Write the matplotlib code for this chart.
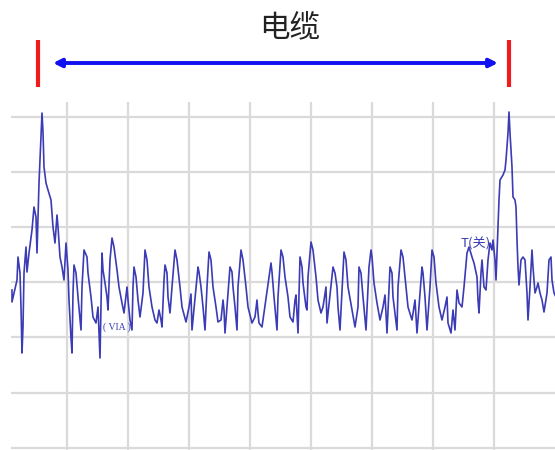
import matplotlib
matplotlib.use("Agg")
import matplotlib.pyplot as plt

plt.rcParams['font.family'] = ['Noto Sans CJK SC', 'DejaVu Sans']

# waveform vertices: sample index, amplitude
t = [12, 12, 17, 18, 20, 21, 22, 23, 24, 26, 27, 29, 32, 34, 36, 37, 39, 42, 43, 44,
     46, 48, 51, 53, 55, 57, 58, 60, 62, 64, 66, 68, 69, 71, 72, 73, 74, 76, 78, 81,
     82, 84, 87, 88, 91, 93, 96, 98, 100, 102, 103, 105, 107, 108, 110, 112, 114, 117, 119, 122,
     124, 127, 128, 130, 132, 133, 134, 136, 138, 140, 143, 145, 147, 149, 152, 155, 157, 159, 161, 162,
     164, 165, 167, 168, 170, 172, 175, 177, 180, 182, 186, 189, 191, 192, 198, 199, 201, 203, 205, 207,
     209, 211, 213, 216, 218, 221, 223, 224, 225, 230, 232, 233, 235, 237, 238, 241, 243, 246, 248, 252,
     255, 257, 258, 259, 262, 271, 272, 274, 277, 278, 281, 283, 285, 288, 290, 293, 295, 296, 298, 300,
     302, 303, 306, 307, 308, 311, 313, 316, 318, 321, 323, 326, 327, 333, 335, 337, 338, 340, 342, 344,
     346, 348, 352, 355, 358, 359, 361, 363, 366, 369, 371, 372, 374, 377, 380, 383, 385, 387, 390, 392,
     393, 397, 398, 401, 403, 406, 408, 412, 415, 417, 422, 423, 425, 427, 430, 432, 434, 436, 439, 442,
     445, 447, 448, 451, 453, 455, 457, 459, 462, 464, 467, 469, 472, 474, 477, 478, 479, 481, 482, 484,
     486, 488, 490, 492, 493, 495, 496, 498, 499, 500, 503, 505, 506, 508, 509, 510, 512, 513, 515, 516,
     517, 518, 519, 521, 523, 525, 527, 528, 530, 532, 533, 535, 537, 538, 540, 542, 544, 547, 549, 551,
     552, 554, 556]
amp = [-8, -20, 2, 25, 9, -25, -71, -45, 9, 35, 10, 29, 52, 75, 65, 29, 99, 169, 150, 115,
       99, 92, 82, 55, 39, 67, 55, 25, 15, 2, 39, 12, -18, -56, -71, -11, 17, 9, -15, -48,
       -5, 32, 25, 9, -15, -35, -41, -25, -76, 29, 12, -1, -15, -28, 22, 44, 35, 12, -5, -21,
       -31, -5, -18, -38, -48, -5, 15, 5, -18, -35, -11, 32, 22, -5, -25, -38, -41, -28, -38, -45,
       2, 17, 9, -15, -31, -5, 32, 22, -5, -25, -40, -25, -12, -48, 15, 10, -5, -25, -48, -5,
       30, 22, -5, -25, -40, -38, -18, -28, -51, 15, 10, -5, -25, -48, -5, 32, 22, -5, -25, -41,
       -35, -18, -31, -41, -45, 19, 10, -15, -48, -15, 32, 25, 5, -15, -35, -40, -18, -13, -51, 25,
       15, -1, -25, -28, 5, 40, 32, 5, -18, -31, -25, -5, -41, 15, 9, -5, -25, -48, -8, 30,
       22, -5, -28, -45, -25, 15, 9, -15, -48, 15, 32, 25, -1, -21, -38, -25, -13, -51, 15, 9,
       -15, -48, -5, 32, 25, -5, -25, -38, -18, -51, 15, 9, -15, -48, -5, 32, 25, -1, -25, -38,
       -25, -15, -41, -51, -28, -48, -8, -21, -25, -5, 29, 35, 25, 19, 5, -18, -31, 9, 22, -5,
       -8, 22, 39, 32, 42, 22, 2, 55, 82, 102, 107, 112, 122, 149, 170, 149, 115, 85, 82, 75,
       42, 15, -3, 22, 25, 22, -11, -38, -5, 32, 15, -11, -5, -1, -11, -18, -30, -11, 22, 25,
       2, -11, -15]

grid_t = [67, 128, 189, 250, 311, 372, 433, 494]
grid_amp = [165, 110, 55, 0, -55, -111, -166]
marker_t = [38, 509]
title = "电缆"

fig = plt.figure(figsize=(5.55, 4.5), dpi=100)
ax = fig.add_axes([0, 0, 1, 1])
ax.set_xlim(0, 555)
ax.set_ylim(-168, 282)
ax.axis("off")

# grid only covers the trace area
ax.vlines(grid_t, -168, 180, color="#dadada", lw=1.6, zorder=1)
ax.hlines(grid_amp, 11, 555, color="#dadada", lw=1.6, zorder=1)

ax.plot(t, amp, color="#3b3bb5", lw=1.2, zorder=3)

ax.text(103, -45, "( VIA )", color="#3b3bb5", fontsize=7, va="center",
        family="Liberation Serif", zorder=4)
ax.text(461, 38, "T(关)", color="#3b3bb5", fontsize=9.5, va="center", zorder=4)

# cable length marker
ax.vlines(marker_t, 195, 242, color="#ee1c1c", lw=3, zorder=4)
ax.annotate("", xy=(marker_t[1] - 11, 219), xytext=(marker_t[0] + 15, 219),
            arrowprops=dict(arrowstyle="<|-|>", color="#1010f0", lw=2.8,
                            mutation_scale=12, shrinkA=0, shrinkB=0))
ax.text(290, 254, title, fontsize=22, color="#222222", ha="center", va="center")

fig.savefig("out.png", dpi=100)
